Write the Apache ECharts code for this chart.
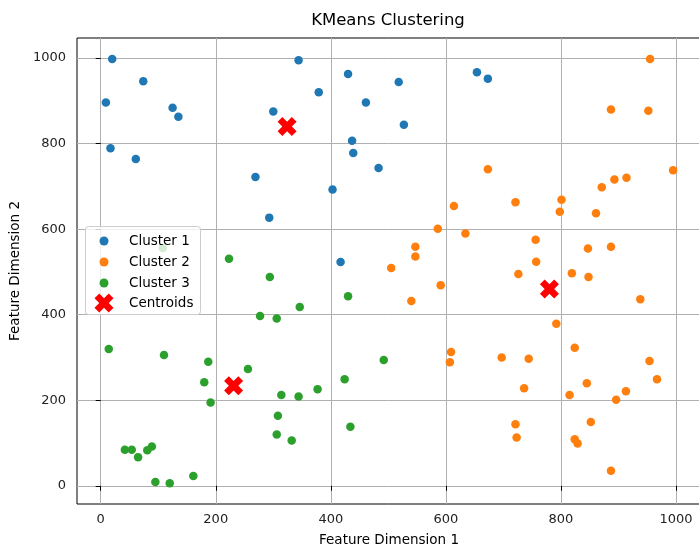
<!DOCTYPE html>
<html>
<head>
<meta charset="utf-8">
<title>KMeans Clustering</title>
<script src="https://cdn.jsdelivr.net/npm/echarts@6/dist/echarts.min.js"></script>
<style>
html, body { margin: 0; padding: 0; background: #fff; }
#main { width: 699px; height: 547px; }
</style>
</head>
<body>
<div id="main"></div>
<script>
// points, [feature 1, feature 2]
var cluster1 = [[20, 998], [74, 946], [9, 896], [125, 884], [135, 863], [17, 789], [61, 764],
    [300, 875], [344, 995], [379, 920], [430, 963], [461, 896], [437, 807], [439, 778],
    [483, 743], [403, 693], [269, 722], [293, 627], [518, 944], [527, 844], [654, 967],
    [673, 952], [417, 523]];

var cluster2 = [[955, 998], [887, 880], [952, 877], [995, 738], [673, 740], [893, 716], [914, 720],
    [871, 698], [801, 669], [798, 641], [861, 637], [721, 663], [614, 654], [586, 601],
    [634, 590], [756, 575], [847, 555], [887, 559], [547, 559], [547, 536], [505, 509],
    [757, 524], [726, 495], [819, 497], [848, 488], [591, 469], [540, 432], [938, 436],
    [792, 379], [824, 323], [609, 313], [607, 289], [697, 300], [744, 297], [954, 292],
    [967, 249], [845, 240], [736, 228], [913, 221], [896, 201], [815, 212], [852, 149],
    [721, 144], [723, 113], [824, 109], [829, 99], [887, 35]];

var cluster3 = [[108, 556], [223, 531], [294, 488], [430, 443], [346, 418], [277, 397], [306, 391],
    [14, 320], [110, 306], [187, 290], [256, 273], [180, 242], [191, 195], [314, 212],
    [344, 209], [377, 226], [424, 249], [308, 164], [306, 120], [332, 106], [434, 138],
    [492, 294], [42, 84], [54, 84], [65, 67], [81, 83], [89, 92], [95, 9], [120, 6], [161, 23]];

var centroids = [[324, 840], [780, 460], [231, 234]];

var xTicks = [0, 200, 400, 600, 800, 1000];
var yTicks = [0, 200, 400, 600, 800, 1000];

var font = 'DejaVu Sans';
// filled "X" marker (plus rotated 45deg)
var xMarker = 'path://M150 0L100 50L50 0L0 50L50 100L0 150L50 200L100 150L150 200L200 150L150 100L200 50Z';

var myChart = echarts.init(document.getElementById('main'));

function dots(name, data, color) {
    return {
        name: name,
        type: 'scatter',
        data: data,
        symbol: 'circle',
        symbolSize: 8.5,
        itemStyle: { color: color, opacity: 1 },
        emphasis: { disabled: true },
        z: 2
    };
}

function plain(v) {
    return String(v); // no thousands separator
}

var option = {
    animation: false,
    backgroundColor: '#fff',
    grid: {
        left: 77, right: -2, top: 38, bottom: 43,
        outerBoundsMode: 'none',
        containLabel: false,
        show: true,
        borderColor: '#000',
        borderWidth: 1
    },
    graphic: [{
        type: 'text',
        style: {
            x: 388, y: 21,
            text: 'KMeans Clustering',
            fontSize: 16.5, fontFamily: font, fill: '#000',
            align: 'center', verticalAlign: 'middle'
        }
    }, {
        // legend frame
        type: 'rect',
        z: 5,
        shape: { x: 85.5, y: 226.5, width: 115, height: 88, r: 3 },
        style: { fill: 'rgba(255,255,255,0.8)', stroke: '#cccccc', lineWidth: 1 }
    }],
    legend: [{
        data: [{ name: 'Cluster 1', icon: 'circle' }, { name: 'Cluster 2', icon: 'circle' }, { name: 'Cluster 3', icon: 'circle' }],
        orient: 'vertical',
        left: 99.5, top: 234,
        padding: 0,
        itemWidth: 9, itemHeight: 9, itemGap: 7,
        selectedMode: false,
        z: 6,
        textStyle: { fontSize: 13.5, fontFamily: font, color: '#000', padding: [0, 0, 0, 15.5] }
    }, {
        data: [{ name: 'Centroids', icon: xMarker }],
        orient: 'vertical',
        left: 94.5, top: 293.5,
        padding: 0,
        itemWidth: 19, itemHeight: 19,
        selectedMode: false,
        z: 6,
        textStyle: { fontSize: 13.5, fontFamily: font, color: '#000', padding: [0, 0, 0, 10.5] }
    }],
    xAxis: {
        type: 'value',
        min: -41.2, max: 1043.5,
        name: 'Feature Dimension 1',
        nameLocation: 'middle',
        nameGap: 29,
        nameTextStyle: { fontSize: 13.5, fontFamily: font, color: '#000' },
        axisLine: { show: false },
        axisTick: { show: true, length: 5, lineStyle: { color: '#000' }, customValues: xTicks },
        axisLabel: { fontSize: 13, fontFamily: font, color: '#222', margin: 9, customValues: xTicks, formatter: plain },
        splitLine: { show: true, lineStyle: { color: '#b0b0b0', width: 1 } }
    },
    yAxis: {
        type: 'value',
        min: -42.6, max: 1047,
        name: 'Feature Dimension 2',
        nameLocation: 'middle',
        nameGap: 53,
        nameTextStyle: { fontSize: 13.5, fontFamily: font, color: '#000' },
        axisLine: { show: false },
        axisTick: { show: true, length: 5, lineStyle: { color: '#000' }, customValues: yTicks },
        axisLabel: { fontSize: 13, fontFamily: font, color: '#222', margin: 11, customValues: yTicks, formatter: plain },
        splitLine: { show: true, lineStyle: { color: '#b0b0b0', width: 1 } }
    },
    series: [
        dots('Cluster 1', cluster1, '#1f77b4'),
        dots('Cluster 2', cluster2, '#ff7f0e'),
        dots('Cluster 3', cluster3, '#2ca02c'),
        {
            name: 'Centroids',
            type: 'scatter',
            data: centroids,
            symbol: xMarker,
            symbolSize: 19,
            itemStyle: { color: '#ff0000', opacity: 1 },
            emphasis: { disabled: true },
            z: 3
        }
    ]
};

myChart.setOption(option);
window.onresize = myChart.resize;
</script>
</body>
</html>
